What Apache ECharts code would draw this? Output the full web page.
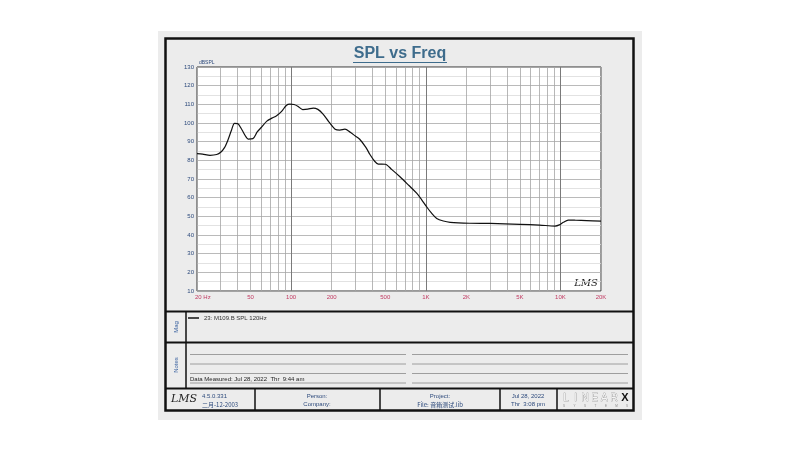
<!DOCTYPE html>
<html><head><meta charset="utf-8">
<script src="https://cdn.jsdelivr.net/npm/echarts@6/dist/echarts.min.js"></script>
<style>html,body{margin:0;padding:0;background:#fff}#c{width:801px;height:451px}</style>
</head><body><div id="c"></div>
<script>
// ---- data ----
const seriesName = '23: M109.B SPL 120Hz';
const freqs = [20,22,25,28,30,32,34,36,38,40,43,46,48,52,56,60,66,72,78,85,92,98,105,112,122,133,146,158,172,190,212,230,251,275,300,323,360,385,417,444,500,560,643,750,855,930,1010,1100,1205,1350,1517,2110,3000,5000,7000,9110,9800,10500,11420,13000,15630,20000];
const spl   = [83.6,83.3,82.7,83.1,84.3,86.8,91,96,99.8,99.7,96.5,92.8,91.4,91.6,95.2,97.6,101,102.6,103.9,106.2,109.4,110.1,109.9,109,107.2,107.4,108,107.3,104.9,100.8,96.7,96.2,96.7,95,93,91.3,86.8,83.1,79.5,78,77.9,75,71.2,66.5,62.4,59,55.3,51.8,48.9,47.5,46.8,46.3,46.2,45.7,45.3,44.8,45.4,46.8,48,47.9,47.7,47.4];
const gridFreqs = [20,30,40,50,60,70,80,90,100,200,300,400,500,600,700,800,900,1000,2000,3000,4000,5000,6000,7000,8000,9000,10000,20000];
const decadeFreqs = [100,1000,10000];
const xTickValues = [20,50,100,200,500,1000,2000,5000,10000,20000];
const xTickLabels = ['20 Hz','50','100','200','500','1K','2K','5K','10K','20K'];
const yMin = 10, yMax = 130, yStep = 10;

// ---- chart ----
const chart = echarts.init(document.getElementById('c'), null, {renderer:'canvas'});
const F = 'Liberation Sans, Arial, sans-serif';
const blue = '#2d4a7c';

const vLines = gridFreqs.map(f => {
  const i = xTickValues.indexOf(f);
  const isDec = decadeFreqs.indexOf(f) >= 0;
  const item = {
    xAxis: f,
    lineStyle: {color: isDec ? '#7a7a7a' : '#a4a4a4', width: isDec ? 1 : 0.8, type: 'solid'},
    label: {show: i >= 0, formatter: i >= 0 ? xTickLabels[i] : '', position: 'start', distance: 3,
            color: '#c23a62', fontSize: 6, fontFamily: F}
  };
  if (f === 20) { item.label.align = 'left'; item.label.offset = [-2, 0]; }
  return item;
});

function L(x1,y1,x2,y2,w,c){return {type:'line',silent:true,shape:{x1,y1,x2,y2},style:{stroke:c||'#111',lineWidth:w||1}};}
function T(x,y,text,o){return Object.assign({type:'text',silent:true,x,y,style:Object.assign({text,fill:blue,font:'6px '+F,textAlign:'left',textVerticalAlign:'middle'},o||{})});}

const logoLetters = ['L','I','N','E','A','R'];
const logoGraphics = logoLetters.map((ch,k) => ({type:'text',silent:true,x:566+k*9.6,y:398,
  style:{text:ch,fill:'#f4f4f4',stroke:'#777',lineWidth:0.5,font:'10px '+F,textAlign:'center',textVerticalAlign:'middle'}}));
const sysGraphics = ['S','Y','S','T','E','M','S'].map((ch,k) => ({type:'text',silent:true,x:564+k*10.5,y:406.5,
  style:{text:ch,fill:'#888',font:'3px '+F,textAlign:'center',textVerticalAlign:'middle'}}));

const graphics = [
  {type:'rect',silent:true,z:-10,shape:{x:158,y:31,width:484,height:389},style:{fill:'#ececec'}},
  {type:'rect',silent:true,z:10,shape:{x:165.5,y:38.5,width:468,height:372},style:{fill:'none',stroke:'#111',lineWidth:2.5}},
  L(165,311.5,634,311.5,2), L(165,342.5,634,342.5,2), L(165,388.5,634,388.5,2),
  L(186,311.5,186,388.5,1.5),
  L(255,388.5,255,410.5,1.5), L(380,388.5,380,410.5,1.5), L(500,388.5,500,410.5,1.5), L(557,388.5,557,410.5,1.5),
  // title
  {type:'text',silent:true,x:400,y:54,style:{text:'SPL vs Freq',fill:'#3e6c8c',font:'bold 16px '+F,textAlign:'center',textVerticalAlign:'middle'}},
  L(353,62.5,447,62.5,1.2,'#3e6c8c'),
  // y unit
  T(199,63,'dBSPL',{font:'5px '+F}),
  // LMS watermark
  {type:'text',silent:true,x:586,y:283,style:{text:'LMS',fill:'#222',font:'italic 10px DejaVu Serif, serif',textAlign:'center',textVerticalAlign:'middle'}},
  // side labels
  {type:'text',silent:true,x:176,y:327,rotation:Math.PI/2,style:{text:'Mag',fill:'#3a62a0',font:'6px '+F,textAlign:'center',textVerticalAlign:'middle'}},
  {type:'text',silent:true,x:176,y:365,rotation:Math.PI/2,style:{text:'Notes',fill:'#3a62a0',font:'6px '+F,textAlign:'center',textVerticalAlign:'middle'}},
  // notes lines
  L(190,354.5,406,354.5,0.8,'#8a8a8a'), L(412,354.5,628,354.5,0.8,'#8a8a8a'),
  L(190,364,406,364,0.8,'#8a8a8a'), L(412,364,628,364,0.8,'#8a8a8a'),
  L(190,373.5,406,373.5,0.8,'#8a8a8a'), L(412,373.5,628,373.5,0.8,'#8a8a8a'),
  L(190,383,406,383,0.8,'#8a8a8a'), L(412,383,628,383,0.8,'#8a8a8a'),
  T(190,379.5,'Data Measured: Jul 28, 2022  Thr  9:44 am',{fill:'#222'}),
  // footer
  {type:'text',silent:true,x:184,y:399.5,style:{text:'LMS',fill:'#222',font:'italic 11px DejaVu Serif, serif',textAlign:'center',textVerticalAlign:'middle'}},
  T(202,396,'4.5.0.331'), T(202,404.5,'二月-12-2003',{font:'6px Noto Sans CJK SC, '+F}),
  T(317,396,'Person:',{textAlign:'center'}), T(317,404.5,'Company:',{textAlign:'center'}),
  T(440,396,'Project:',{textAlign:'center'}), T(440,404.5,'File: 音箱测试.lib',{textAlign:'center',font:'6px Noto Sans CJK SC, '+F}),
  T(528,396,'Jul 28, 2022',{textAlign:'center'}), T(528,404.5,'Thr  3:08 pm',{textAlign:'center'}),
  {type:'text',silent:true,x:625,y:398,style:{text:'X',fill:'#111',font:'bold 11px '+F,textAlign:'center',textVerticalAlign:'middle'}}
].concat(logoGraphics, sysGraphics);

chart.setOption({
  animation: false,
  backgroundColor: '#ffffff',
  grid: {left:197, top:67, width:404, height:224, show:true, backgroundColor:'#ffffff', borderColor:'#333', borderWidth:1, containLabel:false},
  legend: {show:true, data:[seriesName], left:188, top:315, itemWidth:11, itemHeight:1.5, icon:'rect', itemGap:4,
           textStyle:{fontSize:6, color:'#333', fontFamily:F}, padding:0, selectedMode:false},
  xAxis: {type:'log', logBase:10, min:20, max:20000, axisLabel:{show:false}, axisTick:{show:false},
          splitLine:{show:false}, axisLine:{show:false}},
  yAxis: {type:'value', min:yMin, max:yMax, interval:yStep,
          axisLabel:{fontSize:6, color:blue, margin:3, fontFamily:F},
          axisTick:{show:false}, axisLine:{show:false},
          splitLine:{show:true, lineStyle:{color:'#a8a8a8', width:0.8}},
          minorTick:{show:false, splitNumber:2},
          minorSplitLine:{show:true, lineStyle:{color:'#dadada', width:0.8}}},
  graphic: graphics,
  series: [
    {name:'grid', type:'line', data:[], z:1, silent:true,
     markLine:{silent:true, symbol:['none','none'], animation:false, data: vLines}},
    {name:seriesName, type:'line', z:5, smooth:0.3, showSymbol:false, symbol:'none',
     color:'#111', lineStyle:{color:'#111', width:1.2},
     data: freqs.map((f,i)=>[f, spl[i]])}
  ]
});
</script></body></html>
